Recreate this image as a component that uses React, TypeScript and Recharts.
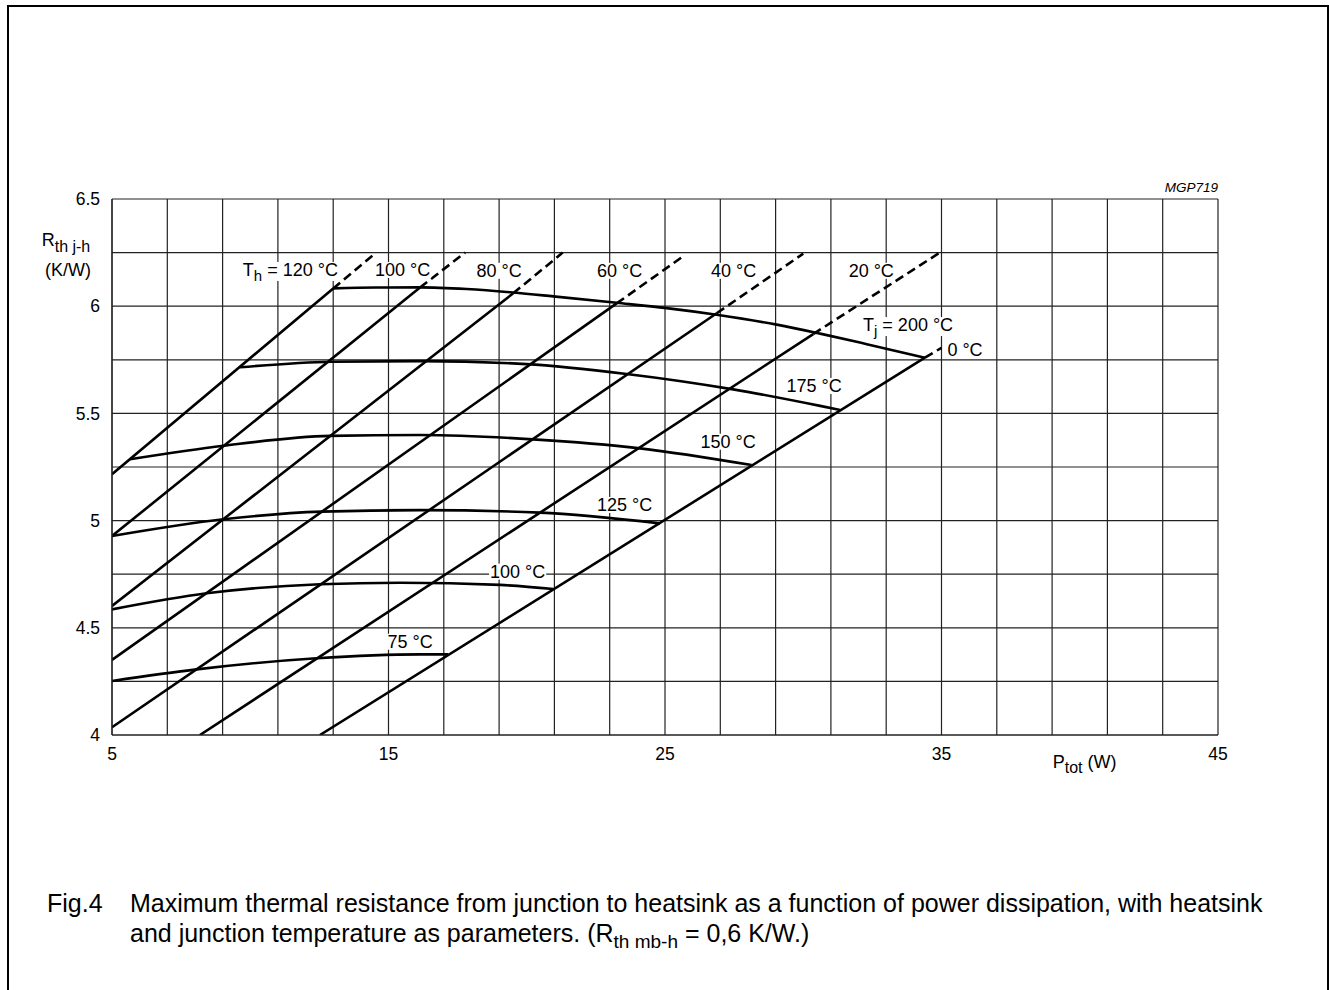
import React from "react";
import { LineChart, Line, XAxis, YAxis, CartesianGrid, ReferenceDot } from "recharts";

// axis ticks (grid every 2 W / 0.25 K/W, labels on every 5th / 2nd)
const xTicks = [5, 7, 9, 11, 13, 15, 17, 19, 21, 23, 25, 27, 29, 31, 33, 35, 37, 39, 41, 43, 45];
const xLabels = [5, 15, 25, 35, 45];
const yTicks = [4, 4.25, 4.5, 4.75, 5, 5.25, 5.5, 5.75, 6, 6.25, 6.5];

// heatsink temperature lines: solid part, dashed continuation
const th120 = [{ p: 5, r: 5.216 }, { p: 13.0, r: 6.083 }];
const th120Dash = [{ p: 13.0, r: 6.083 }, { p: 14.55, r: 6.25 }];
const th100 = [{ p: 5, r: 4.928 }, { p: 16.14, r: 6.087 }];
const th100Dash = [{ p: 16.14, r: 6.087 }, { p: 17.77, r: 6.25 }];
const th80 = [{ p: 5, r: 4.602 }, { p: 19.51, r: 6.06 }];
const th80Dash = [{ p: 19.51, r: 6.06 }, { p: 21.3, r: 6.25 }];
const th60 = [{ p: 5, r: 4.35 }, { p: 23.25, r: 6.013 }];
const th60Dash = [{ p: 23.25, r: 6.013 }, { p: 25.66, r: 6.233 }];
const th40 = [{ p: 5, r: 4.036 }, { p: 26.87, r: 5.967 }];
const th40Dash = [{ p: 26.87, r: 5.967 }, { p: 30.0, r: 6.245 }];
const th20 = [{ p: 8.18, r: 4 }, { p: 30.36, r: 5.87 }];
const th20Dash = [{ p: 30.36, r: 5.87 }, { p: 35.0, r: 6.255 }];
const th0 = [{ p: 12.52, r: 4 }, { p: 34.4, r: 5.76 }];
const th0Dash = [{ p: 34.4, r: 5.76 }, { p: 35.0, r: 5.806 }];

// junction temperature curves
const tj200 = [
  { p: 13.0, r: 6.083 }, { p: 14.55, r: 6.087 }, { p: 16.14, r: 6.088 }, { p: 17.83, r: 6.08 },
  { p: 19.51, r: 6.064 }, { p: 20.96, r: 6.046 }, { p: 23.25, r: 6.016 }, { p: 25.06, r: 5.991 },
  { p: 26.87, r: 5.96 }, { p: 29.04, r: 5.914 }, { p: 30.61, r: 5.872 }, { p: 32.3, r: 5.823 },
  { p: 34.4, r: 5.76 },
];
const tj175 = [
  { p: 9.63, r: 5.715 }, { p: 12.95, r: 5.741 }, { p: 16.14, r: 5.744 }, { p: 19.99, r: 5.73 },
  { p: 23.61, r: 5.684 }, { p: 27.47, r: 5.612 }, { p: 30.61, r: 5.535 }, { p: 31.33, r: 5.516 },
];
const tj150 = [
  { p: 5.65, r: 5.286 }, { p: 9.03, r: 5.349 }, { p: 12.88, r: 5.395 }, { p: 16.14, r: 5.399 },
  { p: 20.23, r: 5.379 }, { p: 24.1, r: 5.337 }, { p: 28.13, r: 5.259 },
];
const tj125 = [
  { p: 5, r: 4.928 }, { p: 9.03, r: 5.006 }, { p: 12.58, r: 5.042 }, { p: 16.14, r: 5.049 },
  { p: 20.48, r: 5.037 }, { p: 24.82, r: 4.987 },
];
const tj100 = [
  { p: 5, r: 4.586 }, { p: 8.42, r: 4.661 }, { p: 12.52, r: 4.703 }, { p: 15.42, r: 4.71 },
  { p: 19.03, r: 4.7 }, { p: 20.96, r: 4.681 },
];
const tj75 = [
  { p: 5, r: 4.252 }, { p: 8.06, r: 4.306 }, { p: 12.4, r: 4.358 }, { p: 16.14, r: 4.376 },
  { p: 17.16, r: 4.376 },
];

const solidTh = [th120, th100, th80, th60, th40, th20, th0];
const dashedTh = [th120Dash, th100Dash, th80Dash, th60Dash, th40Dash, th20Dash, th0Dash];
const tjCurves = [tj200, tj175, tj150, tj125, tj100, tj75];

const FONT = '"Liberation Sans", Arial, Helvetica, sans-serif';

const CW: Record<string, number> = {
  " ": 0.278, "°": 0.4, C: 0.722, "=": 0.584, T: 0.611, h: 0.556, j: 0.222,
};
const textWidth = (s: string, fs: number) =>
  s.split("").reduce((a, c) => a + (CW[c] ?? 0.556), 0) * fs;

// text label with white box behind it (hides the grid like the original)
const tag =
  (main: string, sub?: string, after?: string, anchor: "start" | "middle" | "end" = "middle") =>
  (props: any) => {
    const { cx, cy } = props;
    const fs = 18;
    const sfs = 15;
    const w = textWidth(main, fs) + (sub ? textWidth(sub, sfs) + textWidth(after ?? "", fs) : 0);
    const left = anchor === "end" ? cx - w : anchor === "middle" ? cx - w / 2 : cx;
    return (
      <g>
        <rect x={left - 1} y={cy - 8} width={w + 2} height={sub ? 19 : 16} fill="#fff" />
        <text x={cx} y={cy + 6.4} textAnchor={anchor} fontFamily={FONT} fontSize={fs} fill="#000">
          {main}
          {sub && (
            <tspan dy={5} fontSize={sfs}>
              {sub}
            </tspan>
          )}
          {sub && <tspan dy={-5}>{after}</tspan>}
        </text>
      </g>
    );
  };

const tickStyle = { fill: "#000", fontSize: 17.5, fontFamily: FONT };

export default function App() {
  return (
    <div
      style={{
        position: "absolute",
        left: 0,
        top: 0,
        width: 1329,
        height: 990,
        overflow: "hidden",
        background: "#fff",
        fontFamily: FONT,
      }}
    >
      <div
        style={{
          position: "absolute",
          left: 7,
          top: 5,
          width: 1322,
          height: 1100,
          border: "2px solid #000",
          boxSizing: "border-box",
        }}
      />
      <div style={{ position: "absolute", left: 0, top: 0 }}>
        <LineChart width={1329} height={990} margin={{ top: 199, right: 111, bottom: 215, left: 52 }}>
          <CartesianGrid stroke="#222" strokeWidth={1.2} />
          <XAxis
            type="number"
            dataKey="p"
            domain={[5, 45]}
            ticks={xTicks}
            interval={0}
            allowDataOverflow
            tickFormatter={(v: number) => (xLabels.includes(v) ? String(v) : "")}
            tickLine={false}
            tickSize={0}
            tickMargin={13}
            height={40}
            axisLine={{ stroke: "#222", strokeWidth: 1.2 }}
            tick={tickStyle}
          />
          <YAxis
            type="number"
            dataKey="r"
            domain={[4, 6.5]}
            ticks={yTicks}
            interval={0}
            allowDataOverflow
            tickFormatter={(v: number) => (Number.isInteger(v * 2) ? String(v) : "")}
            tickLine={false}
            tickSize={0}
            tickMargin={12}
            width={60}
            axisLine={{ stroke: "#222", strokeWidth: 1.2 }}
            tick={tickStyle}
          />

          <ReferenceDot x={13.17} y={6.169} r={2} shape={tag("T", "h", " = 120 °C", "end")} />
          <ReferenceDot x={15.51} y={6.169} r={2} shape={tag("100 °C")} />
          <ReferenceDot x={19.0} y={6.165} r={2} shape={tag("80 °C")} />
          <ReferenceDot x={23.36} y={6.165} r={2} shape={tag("60 °C")} />
          <ReferenceDot x={27.48} y={6.165} r={2} shape={tag("40 °C")} />
          <ReferenceDot x={32.46} y={6.165} r={2} shape={tag("20 °C")} />
          <ReferenceDot x={35.42} y={5.912} r={2} shape={tag("T", "j", " = 200 °C", "end")} />
          <ReferenceDot x={35.85} y={5.799} r={2} shape={tag("0 °C")} />
          <ReferenceDot x={31.39} y={5.628} r={2} shape={tag("175 °C", undefined, undefined, "end")} />
          <ReferenceDot x={27.28} y={5.368} r={2} shape={tag("150 °C")} />
          <ReferenceDot x={23.54} y={5.073} r={2} shape={tag("125 °C")} />
          <ReferenceDot x={19.67} y={4.762} r={2} shape={tag("100 °C")} />
          <ReferenceDot x={15.78} y={4.435} r={2} shape={tag("75 °C")} />

          {solidTh.map((d, i) => (
            <Line
              key={`th${i}`}
              data={d}
              dataKey="r"
              type="linear"
              stroke="#000"
              strokeWidth={2.6}
              dot={false}
              activeDot={false}
              isAnimationActive={false}
            />
          ))}
          {dashedTh.map((d, i) => (
            <Line
              key={`thd${i}`}
              data={d}
              dataKey="r"
              type="linear"
              stroke="#000"
              strokeWidth={2.6}
              strokeDasharray="9 5"
              dot={false}
              activeDot={false}
              isAnimationActive={false}
            />
          ))}
          {tjCurves.map((d, i) => (
            <Line
              key={`tj${i}`}
              data={d}
              dataKey="r"
              type="monotone"
              stroke="#000"
              strokeWidth={2.6}
              dot={false}
              activeDot={false}
              isAnimationActive={false}
            />
          ))}
        </LineChart>
      </div>

      <svg
        width={1329}
        height={990}
        style={{ position: "absolute", left: 0, top: 0, pointerEvents: "none" }}
        fontFamily={FONT}
        fill="#000"
      >
        <text x={1218} y={191.7} textAnchor="end" fontSize={13.5} fontStyle="italic">
          MGP719
        </text>
        <text x={41.7} y={246.4} fontSize={18}>
          R
          <tspan dy={5.5} fontSize={16}>
            th j-h
          </tspan>
        </text>
        <text x={45} y={276.4} fontSize={18}>
          (K/W)
        </text>
        <text x={1052.7} y={768.3} fontSize={18}>
          P
          <tspan dy={5} fontSize={16}>
            tot
          </tspan>
          <tspan dy={-5}> (W)</tspan>
        </text>
        <text x={47} y={911.7} fontSize={25}>
          Fig.4
        </text>
        <text x={130} y={911.7} fontSize={25}>
          Maximum thermal resistance from junction to heatsink as a function of power dissipation, with heatsink
        </text>
        <text x={130} y={941.7} fontSize={25}>
          and junction temperature as parameters. (R
          <tspan dy={6} fontSize={19}>
            th mb-h
          </tspan>
          <tspan dy={-6}> = 0,6 K/W.)</tspan>
        </text>
      </svg>
    </div>
  );
}
